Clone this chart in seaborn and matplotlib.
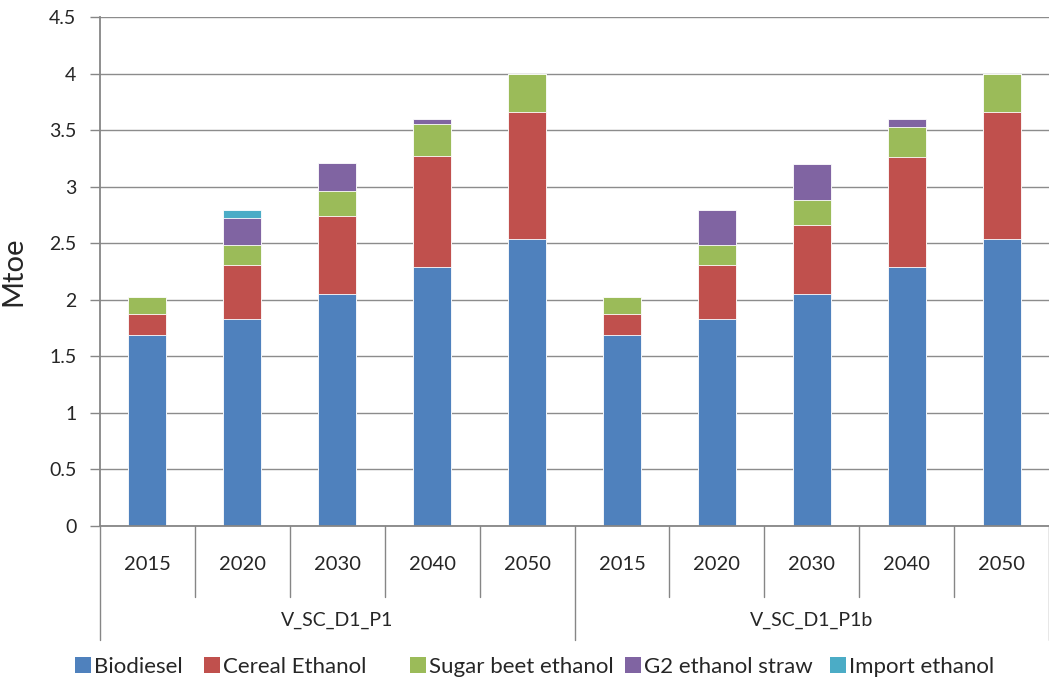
import numpy as np
import pandas as pd
import matplotlib
matplotlib.use("Agg")
import matplotlib.pyplot as plt
import seaborn as sns
from matplotlib.patches import Patch

# Scenarios and years on the category axis
scenarios = ["V_SC_D1_P1", "V_SC_D1_P1b"]
years = ["2015", "2020", "2030", "2040", "2050"]

# Biofuel consumption by type (Mtoe), one value per scenario/year
biodiesel = [1.69, 1.83, 2.05, 2.29, 2.535,
             1.69, 1.83, 2.05, 2.29, 2.535]
cereal_ethanol = [0.185, 0.48, 0.69, 0.98, 1.125,
                  0.185, 0.48, 0.61, 0.975, 1.125]
sugar_beet_ethanol = [0.15, 0.17, 0.22, 0.28, 0.34,
                      0.15, 0.17, 0.22, 0.265, 0.34]
g2_ethanol_straw = [0.0, 0.24, 0.25, 0.05, 0.0,
                    0.0, 0.31, 0.32, 0.07, 0.0]
import_ethanol = [0.0, 0.07, 0.0, 0.0, 0.0,
                  0.0, 0.0, 0.0, 0.0, 0.0]

series_names = ["Biodiesel", "Cereal Ethanol", "Sugar beet ethanol",
                "G2 ethanol straw", "Import ethanol"]
series_values = [biodiesel, cereal_ethanol, sugar_beet_ethanol,
                 g2_ethanol_straw, import_ethanol]
colors = ["#4f81bd", "#c0504d", "#9bbb59", "#8064a2", "#4bacc6"]

sns.set_theme(style="white")
plt.rcParams["font.family"] = ["Lato", "DejaVu Sans"]

cat_keys = [f"{s}|{y}" for s in scenarios for y in years]
df = pd.DataFrame({"cat": cat_keys})
for name, vals in zip(series_names, series_values):
    df[name] = vals

fig = plt.figure(figsize=(10.49, 6.84), dpi=100)
ax = fig.add_axes([100 / 1049, 1 - 526 / 684, 949 / 1049, 509 / 684])

# Stacked bars: draw cumulative totals from the top layer down
cum = df[series_names].cumsum(axis=1)
for name, col in reversed(list(zip(series_names, colors))):
    sns.barplot(x=df["cat"], y=cum[name], order=cat_keys, color=col,
                width=0.4, ax=ax, saturation=1, edgecolor="white",
                linewidth=0.6)

ax.set_xlim(-0.5, len(cat_keys) - 0.5)
ax.set_ylim(0, 4.5)
ax.set_yticks(np.arange(0, 4.51, 0.5))
ax.set_yticklabels(["0", "0.5", "1", "1.5", "2", "2.5", "3", "3.5", "4", "4.5"],
                   fontsize=14)
ax.yaxis.grid(True, color="#8c8c8c", linewidth=1)
ax.set_axisbelow(True)
ax.tick_params(axis="y", length=7, width=1, color="#868686", direction="out",
               left=True, pad=10)
ax.set_xticks([])
ax.set_xlabel("")
ax.set_ylabel("Mtoe", fontsize=21, labelpad=16)
for sp in ["top", "right"]:
    ax.spines[sp].set_visible(False)
for sp in ["left", "bottom"]:
    ax.spines[sp].set_color("#868686")
    ax.spines[sp].set_linewidth(1.3)

# Two-level category axis below the plot
trans = matplotlib.transforms.blended_transform_factory(ax.transData, ax.transAxes)
line_kw = dict(color="#868686", linewidth=1, clip_on=False, transform=trans)
year_bottom = -71 / 509
group_bottom = -114 / 509
n = len(cat_keys)
for i, key in enumerate(cat_keys):
    ax.text(i, -38 / 509, key.split("|")[1], transform=trans, ha="center",
            va="center", fontsize=14.5)
for b in range(n + 1):
    xb = b - 0.5
    if b % len(years) == 0:
        ax.plot([xb, xb], [0, group_bottom], **line_kw)
    else:
        ax.plot([xb, xb], [0, year_bottom], **line_kw)
for g, s in enumerate(scenarios):
    center = g * len(years) + (len(years) - 1) / 2
    ax.text(center, -94 / 509, s, transform=trans, ha="center", va="center",
            fontsize=14)

# Legend entries laid out along the bottom edge
legend_x = [75, 204, 410, 625, 830]
for name, col, lx in zip(series_names, colors, legend_x):
    fig.legend([Patch(facecolor=col, edgecolor="none")], [name],
               loc="center left", bbox_to_anchor=(lx / 1049, 1 - 667 / 684),
               frameon=False, fontsize=16, handlelength=0.7,
               handleheight=0.75, handletextpad=0.15, borderpad=0,
               borderaxespad=0)

fig.savefig("out.png", dpi=100, facecolor="white")
